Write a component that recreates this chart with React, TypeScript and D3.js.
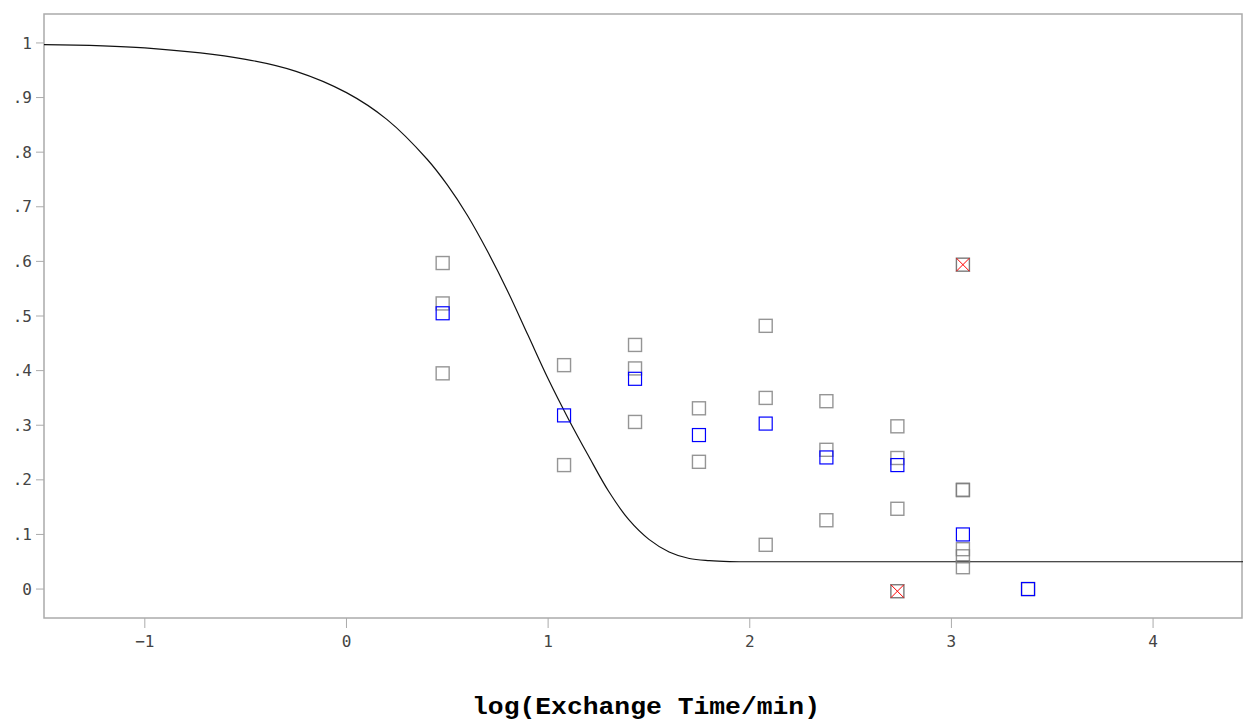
import React from "react";
import * as d3 from "d3";

// log10 exchange times (min)
const timePoints = [0.477, 1.079, 1.431, 1.748, 2.079, 2.38, 2.732, 3.057, 3.38];

// individual replicate values per time point
const replicates = [
  [0.597, 0.523, 0.395],
  [0.41, 0.227],
  [0.447, 0.404, 0.306],
  [0.331, 0.233],
  [0.482, 0.35, 0.081],
  [0.344, 0.255, 0.126],
  [0.298, 0.24, 0.147],
  [0.182, 0.181, 0.073, 0.06, 0.04],
  [0.0],
];

// mean per time point
const means = [0.505, 0.318, 0.385, 0.282, 0.303, 0.241, 0.227, 0.1, 0.0];

// excluded points [logTime, value]
const outliers = [
  [2.732, -0.004],
  [3.057, 0.594],
];

// fitted curve
const curveX = [-1.5, -1.0, -0.5, -0.25, 0, 0.2, 0.4, 0.5, 0.6, 0.7, 0.8, 0.9, 1.0, 1.1, 1.2, 1.3, 1.4, 1.5, 1.6, 1.7, 1.8, 1.9, 2.0, 2.5, 3.0, 3.5, 4.0, 4.45];
const curveY = [0.997, 0.991, 0.97, 0.948, 0.909, 0.86, 0.787, 0.74, 0.684, 0.618, 0.545, 0.465, 0.385, 0.312, 0.244, 0.179, 0.127, 0.091, 0.068, 0.056, 0.052, 0.0503, 0.05, 0.05, 0.05, 0.05, 0.05, 0.05];

const xTicks = [-1, 0, 1, 2, 3, 4];
const yTicks = [0, 0.1, 0.2, 0.3, 0.4, 0.5, 0.6, 0.7, 0.8, 0.9, 1];
const xTitle = "log(Exchange Time/min)";

const W = 1243;
const H = 720;
const left = 44;
const right = 1242;
const top = 14;
const bottom = 618;

const fmtY = (v: number) => (v === 0 ? "0" : v === 1 ? "1" : d3.format(".1f")(v).replace(/^0/, ""));
const fmtX = (v: number) => (v < 0 ? "\u2212" + Math.abs(v) : String(v));

const App = () => {
  const x = d3.scaleLinear().domain([-1.5, 4.446]).range([left, right + 1]);
  const y = d3.scaleLinear().domain([-0.053, 1.053]).range([bottom, top]);

  const line = d3
    .line<number>()
    .x((d, i) => x(curveX[i]))
    .y((d) => y(d))
    .curve(d3.curveCatmullRom.alpha(0.5));

  const s = 13;
  const axisColor = "#ababab";
  const labelFont = "'DejaVu Sans Mono', monospace";

  return (
    <svg width={W} height={H} style={{ position: "absolute", left: 0, top: 0, background: "#fff" }}>
      <rect x={left} y={top} width={right - left} height={bottom - top} fill="none" stroke={axisColor} strokeWidth={1.5} />

      {yTicks.map((t) => (
        <g key={"y" + t}>
          <line x1={left - 8} x2={left} y1={y(t)} y2={y(t)} stroke={axisColor} />
          <text x={32} y={y(t)} dy="0.35em" textAnchor="end" fontFamily={labelFont} fontSize={16} fill="#444">
            {fmtY(t)}
          </text>
        </g>
      ))}

      {xTicks.map((t) => (
        <g key={"x" + t}>
          <line x1={x(t)} x2={x(t)} y1={bottom} y2={bottom + 10} stroke={axisColor} />
          <text x={x(t)} y={647} textAnchor="middle" fontFamily={labelFont} fontSize={16} fill="#444">
            {fmtX(t)}
          </text>
        </g>
      ))}

      <path d={line(curveY) || ""} fill="none" stroke="#111" strokeWidth={1.2} />

      {replicates.map((vals, i) =>
        vals.map((v, j) => (
          <rect
            key={"r" + i + "-" + j}
            x={x(timePoints[i]) - s / 2}
            y={y(v) - s / 2}
            width={s}
            height={s}
            fill="none"
            stroke="#7a7a7a"
            strokeOpacity={0.8}
            strokeWidth={1.4}
          />
        ))
      )}

      {means.map((v, i) => (
        <rect
          key={"m" + i}
          x={x(timePoints[i]) - s / 2}
          y={y(v) - s / 2}
          width={s}
          height={s}
          fill="none"
          stroke="#0000ff"
          strokeWidth={1.2}
        />
      ))}

      {outliers.map(([tx, v], i) => {
        const cx = x(tx);
        const cy = y(v);
        return (
          <g key={"o" + i}>
            <rect x={cx - s / 2} y={cy - s / 2} width={s} height={s} fill="none" stroke="#7a7a7a" strokeWidth={1.4} />
            <line x1={cx - s / 2} y1={cy - s / 2} x2={cx + s / 2} y2={cy + s / 2} stroke="#ff0000" strokeWidth={1} />
            <line x1={cx - s / 2} y1={cy + s / 2} x2={cx + s / 2} y2={cy - s / 2} stroke="#ff0000" strokeWidth={1} />
          </g>
        );
      })}

      <text
        x={646}
        y={714}
        textAnchor="middle"
        fontFamily="'Courier New', Courier, 'Liberation Mono', 'DejaVu Sans Mono', monospace"
        fontWeight="bold"
        fontSize={24}
        textLength={348}
        lengthAdjust="spacingAndGlyphs"
        fill="#000"
      >
        {xTitle}
      </text>
    </svg>
  );
};

export default App;
